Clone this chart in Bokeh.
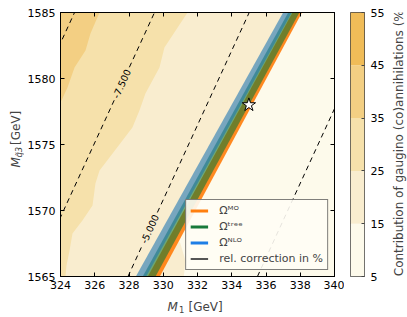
from math import pi
from bokeh.plotting import figure
from bokeh.models import Range1d, LinearAxis, FixedTicker, Label, Legend, LegendItem
from bokeh.layouts import row, column
from bokeh.core.properties import value
from bokeh.embed import file_html
from bokeh.resources import INLINE

# ---------------- data ----------------
x_ticks = [324, 326, 328, 330, 332, 334, 336, 338, 340]
y_ticks = [1565, 1570, 1575, 1580, 1585]
x_lim = [324, 340]
y_lim = [1565, 1585]

cbar_levels = [5, 15, 25, 35, 45, 55]
cbar_colors = ["#fdfaeb", "#f9edcf", "#f6e1ab", "#f3cf83", "#f0bc58"]
cbar_title = "Contribution of gaugino (co)annihilations (%)"

# boundaries of the filled contours (gaugino contribution, %)
b15_x = [337.6, 330.5, 331.0, 331.3, 331.2]
b15_y = [1585.0, 1568.5, 1567.5, 1566.2, 1565.0]
b25_x = [331.42, 330.07, 329.78, 328.96, 328.61, 328.20, 327.04, 326.28, 326.04,
         325.87, 325.28, 324.70, 324.53, 324.35, 324.29]
b25_y = [1585.0, 1582.35, 1580.83, 1578.86, 1577.58, 1576.29, 1574.32, 1573.03,
         1572.05, 1570.38, 1569.24, 1568.26, 1566.97, 1565.83, 1565.0]
b35_x = [326.28, 325.75, 325.46, 324.82, 324.41, 324.06, 324.0]
b35_y = [1585.0, 1583.41, 1582.12, 1580.83, 1579.32, 1578.33, 1578.33]

# relic-density bands: edges at M=1565 (bottom) and M=1585 (top)
band_names = ["MO", "tree", "NLO"]
band_left_bottom = [329.10, 328.80, 328.40]
band_right_bottom = [329.80, 329.55, 329.00]
band_left_top = [337.55, 337.30, 337.00]
band_right_top = [338.10, 337.95, 337.50]
band_fill = ["#ff7f0e", "#117733", "#1f77b4"]
band_alpha = [0.92, 0.6, 0.6]
legend_colors = ["#ff7f0e", "#187a3a", "#1e7ee6"]
legend_labels = ["Ωᴹᴼ", "Ωᵗʳᵉᵉ", "Ωᴺᴸᴼ", "rel. correction in %"]

# relative-correction contour lines (x at M=1565 and M=1585)
corr_levels = [-10.0, -7.5, -5.0, -2.5]
corr_x_bottom = [317.74, 322.41, 327.94, 335.50]
corr_x_top = [324.82, 329.49, 335.02, 342.58]
corr_label_text = ["", "-7.500", "-5.000", ""]
corr_label_y = [None, 1579.6, 1568.6, None]

bench_x = [335.0]
bench_y = [1578.0]

FONT = "DejaVu Sans"
W, H = 407, 317
TOP_H = 12 + 264 + 17
YLAB_W = 24

# ---------------- main figure ----------------
p = figure(frame_width=274, frame_height=264,
           x_range=Range1d(*x_lim), y_range=Range1d(*y_lim),
           min_border_left=58 - YLAB_W, min_border_right=10, min_border_top=12,
           min_border_bottom=17, output_backend="svg", toolbar_location=None)
p.background_fill_color = cbar_colors[0]
p.grid.visible = False
p.outline_line_color = "black"
p.outline_line_width = 1

x0, x1 = x_lim
y0, y1 = y_lim
p.patch([x0] + b15_x + [x0], [y1] + b15_y + [y0], fill_color=cbar_colors[1], line_color=None)
p.patch([x0] + b25_x + [x0], [y1] + b25_y + [y0], fill_color=cbar_colors[2], line_color=None)
p.patch([x0] + b35_x, [y1] + b35_y, fill_color=cbar_colors[3], line_color=None)


def xline(i, y):
    return corr_x_bottom[i] + (corr_x_top[i] - corr_x_bottom[i]) * (y - y0) / (y1 - y0)


xs, ys = [], []
gap = 1.25
for i in range(len(corr_levels)):
    if corr_label_y[i] is None:
        segs = [(y0, y1)]
    else:
        segs = [(y0, corr_label_y[i] - gap), (corr_label_y[i] + gap, y1)]
    for a, b in segs:
        xs.append([xline(i, a), xline(i, b)])
        ys.append([a, b])
p.multi_line(xs, ys, line_color="black", line_width=1, line_dash="5 4")

idx = [i for i in range(len(corr_levels)) if corr_label_y[i] is not None]
p.text(x=[xline(i, corr_label_y[i]) for i in idx], y=[corr_label_y[i] for i in idx],
       text=[corr_label_text[i] for i in idx], angle=1.14, text_font=value(FONT),
       text_font_size="9.5px", text_align="center", text_baseline="middle", text_color="black")

for i in range(len(band_names)):
    p.patch([band_left_bottom[i], band_right_bottom[i], band_right_top[i], band_left_top[i]],
            [y0, y0, y1, y1], fill_color=band_fill[i], fill_alpha=band_alpha[i], line_color=None)

p.scatter(bench_x, bench_y, marker="star", size=14, fill_color="white",
          line_color="black", line_width=1)

# legend (zero-length proxy lines)
items = []
for i in range(3):
    r = p.line(bench_x * 2, bench_y * 2, line_color=legend_colors[i], line_width=3)
    items.append(LegendItem(label=legend_labels[i], renderers=[r]))
r = p.line(bench_x * 2, bench_y * 2, line_color="#555555", line_width=2)
items.append(LegendItem(label=legend_labels[3], renderers=[r]))
leg = Legend(items=items, location="bottom_right", margin=6, padding=4, spacing=3,
             glyph_width=18, glyph_height=13, label_height=13, label_standoff=11,
             label_text_font=FONT, label_text_font_size="11px",
             border_line_color="black", border_line_width=1,
             background_fill_color="#fffdf5", background_fill_alpha=0.9)
p.add_layout(leg)

for ax in (p.xaxis[0], p.yaxis[0]):
    ax.major_tick_in = 4
    ax.major_tick_out = 0
    ax.minor_tick_line_color = None
    ax.axis_line_color = "black"
    ax.major_tick_line_color = "black"
    ax.major_label_text_font = FONT
    ax.major_label_text_font_size = "11px"
    ax.major_label_text_color = "black"
p.xaxis.ticker = FixedTicker(ticks=x_ticks)
p.yaxis.ticker = FixedTicker(ticks=y_ticks)
p.xaxis.major_label_standoff = 4
p.yaxis.major_label_standoff = 5

for loc, tk in (("above", x_ticks), ("right", y_ticks)):
    ax = LinearAxis(ticker=FixedTicker(ticks=tk), major_tick_in=4, major_tick_out=0,
                    minor_tick_line_color=None, major_label_text_font_size="0px",
                    major_label_text_color=None, major_label_standoff=0,
                    axis_line_color="black")
    p.add_layout(ax, loc)


def text_fig(w, h):
    f = figure(width=w, height=h, x_range=Range1d(0, w), y_range=Range1d(h, 0),
               min_border=0, x_axis_location=None, y_axis_location=None,
               output_backend="svg", toolbar_location=None)
    f.grid.visible = False
    f.outline_line_color = None
    return f


MAIN_W = (58 - YLAB_W) + 274 + 10
CB_W = 6 + 14 + 24

# y-axis label strip (coordinates are page pixels)
ylab = text_fig(YLAB_W, TOP_H)
ylab.add_layout(Label(x=15.4, y=172, text="M", text_font=FONT, text_font_size="12px",
                      text_font_style="italic", text_baseline="alphabetic",
                      text_align="left", angle=pi / 2))
ylab.add_layout(Label(x=18.3, y=161, text="q̃3", text_font=FONT, text_font_size="8.5px",
                      text_font_style="italic", text_baseline="alphabetic",
                      text_align="left", angle=pi / 2))
ylab.add_layout(Label(x=15.4, y=147, text="[GeV]", text_font=FONT, text_font_size="12px",
                      text_baseline="alphabetic", text_align="left", angle=pi / 2))

# colour bar
cb = figure(frame_width=14, frame_height=264, x_range=Range1d(0, 1),
            y_range=Range1d(cbar_levels[0], cbar_levels[-1]),
            min_border_left=6, min_border_right=24, min_border_top=12, min_border_bottom=17,
            x_axis_location=None, y_axis_location="right",
            output_backend="svg", toolbar_location=None)
cb.grid.visible = False
cb.outline_line_color = "#444444"
cb.quad(left=0, right=1, bottom=cbar_levels[:-1], top=cbar_levels[1:],
        fill_color=cbar_colors, line_color=None)
ya = cb.yaxis[0]
ya.ticker = FixedTicker(ticks=cbar_levels)
ya.major_tick_in = 3
ya.major_tick_out = 0
ya.major_tick_line_color = "#444444"
ya.minor_tick_line_color = None
ya.axis_line_color = None
ya.major_label_standoff = 6
ya.major_label_text_font = FONT
ya.major_label_text_font_size = "11px"
ya.major_label_text_color = "black"

cbt_x0 = YLAB_W + MAIN_W + CB_W
cbt = text_fig(W - cbt_x0, TOP_H)
cbt.add_layout(Label(x=396 - cbt_x0, y=142.5, text=cbar_title,
                     text_font=FONT, text_font_size="12px", text_align="center",
                     text_baseline="middle", angle=pi / 2))

# x-axis label strip spanning the whole width (page pixel coordinates)
xlab = text_fig(W, H - TOP_H)
xlab.add_layout(Label(x=167, y=306.4 - TOP_H, text="M", text_font=FONT, text_font_size="12px",
                      text_font_style="italic", text_baseline="alphabetic", text_align="left"))
xlab.add_layout(Label(x=178.5, y=309 - TOP_H, text="1", text_font=FONT, text_font_size="8.5px",
                      text_baseline="alphabetic", text_align="left"))
xlab.add_layout(Label(x=188, y=306.4 - TOP_H, text="[GeV]", text_font=FONT,
                      text_font_size="12px", text_baseline="alphabetic", text_align="left"))

layout = column(row(ylab, p, cb, cbt), xlab)
open("out.html", "w").write(file_html(layout, INLINE))
